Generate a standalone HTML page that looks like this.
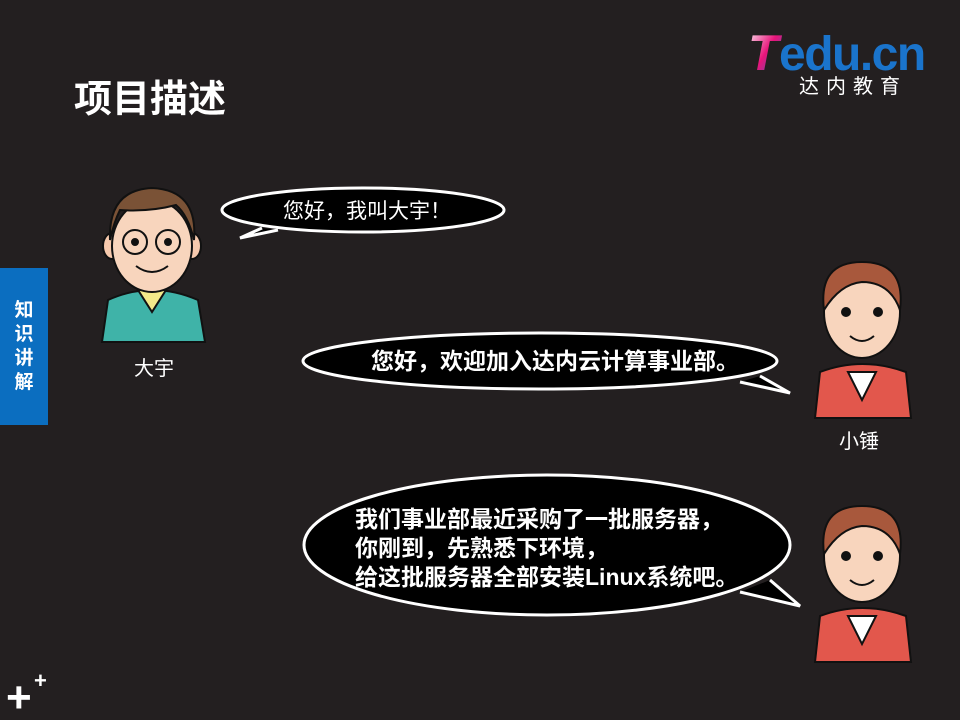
<!DOCTYPE html>
<html><head><meta charset="utf-8"><style>
html,body{margin:0;padding:0;background:#231f20;}
svg{display:block}
text{font-family:"Liberation Sans","Noto Sans CJK SC",sans-serif;}
</style></head><body>
<svg width="960" height="720" viewBox="0 0 960 720">
<defs>
<linearGradient id="tg" x1="0" y1="0" x2="1" y2="1"><stop offset="0" stop-color="#fff"/><stop offset="0.5" stop-color="#e8147a"/><stop offset="1" stop-color="#1a6fc8"/></linearGradient>
</defs>
<rect width="960" height="720" fill="#231f20"/>
<g>
<text x="748" y="70" font-size="50" font-weight="bold" font-style="italic" fill="url(#tg)">T</text>
<text x="779" y="70" font-size="48" font-weight="bold" fill="#1a74cc" letter-spacing="-1.5">edu.cn</text>
<text x="799" y="93" font-size="20" fill="#fff" letter-spacing="7">达内教育</text>
</g>
<text x="74" y="112" font-size="38" font-weight="bold" fill="#fff">项目描述</text>
<g>
<rect x="0" y="268" width="48" height="157" fill="#0b6ec0"/>
<text font-size="19" font-weight="bold" fill="#fff" text-anchor="middle"><tspan x="24" y="316">知</tspan><tspan x="24" y="340">识</tspan><tspan x="24" y="364">讲</tspan><tspan x="24" y="388">解</tspan></text>
</g>
<text x="6" y="712" font-size="44" font-weight="bold" fill="#fff">+</text>
<text x="34" y="688" font-size="22" font-weight="bold" fill="#fff">+</text>

<g stroke="#111" stroke-width="2">
<path d="M102 342 L108 300 Q152 280 198 300 L205 342 Z" fill="#3fb3a8"/>
<path d="M138 290 L152 312 L166 290 Z" fill="#f3e98a"/>
<ellipse cx="112" cy="246" rx="9" ry="13" fill="#f6c9ad"/>
<ellipse cx="192" cy="246" rx="9" ry="13" fill="#f6c9ad"/>
<ellipse cx="152" cy="246" rx="40" ry="46" fill="#f8d5bd"/>
<path d="M110 240 Q108 190 152 188 Q198 190 194 240 Q188 215 176 205 Q150 212 120 210 Q114 222 110 240Z" fill="#7a5236"/>
<circle cx="135" cy="242" r="12" fill="none"/><circle cx="168" cy="242" r="12" fill="none"/>
<circle cx="135" cy="242" r="3" fill="#111"/><circle cx="168" cy="242" r="3" fill="#111"/>
<path d="M136 266 Q152 278 168 266" fill="none"/>
</g>
<text x="154" y="375" font-size="20" fill="#fff" text-anchor="middle">大宇</text>

<g stroke="#111" stroke-width="2">
<path d="M815 418 L820 372 Q862 356 906 372 L911 418 Z" fill="#e2574c"/>
<path d="M848 372 L862 400 L876 372 Z" fill="#fff"/>
<ellipse cx="862" cy="312" rx="38" ry="46" fill="#f8d5bd"/>
<path d="M824 310 Q818 262 862 262 Q906 262 900 310 Q890 282 862 282 Q840 284 824 310Z" fill="#a8583c"/>
<circle cx="846" cy="312" r="4" fill="#111"/><circle cx="878" cy="312" r="4" fill="#111"/>
<path d="M850 336 Q862 346 874 336" fill="none"/>
</g>
<text x="859" y="448" font-size="20" fill="#fff" text-anchor="middle">小锤</text>

<g stroke="#111" stroke-width="2">
<path d="M815 662 L820 616 Q862 600 906 616 L911 662 Z" fill="#e2574c"/>
<path d="M848 616 L862 644 L876 616 Z" fill="#fff"/>
<ellipse cx="862" cy="556" rx="38" ry="46" fill="#f8d5bd"/>
<path d="M824 554 Q818 506 862 506 Q906 506 900 554 Q890 526 862 526 Q840 528 824 554Z" fill="#a8583c"/>
<circle cx="846" cy="556" r="4" fill="#111"/><circle cx="878" cy="556" r="4" fill="#111"/>
<path d="M850 580 Q862 590 874 580" fill="none"/>
</g>

<g fill="#000" stroke="#fff" stroke-width="3">
<path d="M262 228 L240 238 L278 230"/>
<ellipse cx="363" cy="210" rx="141" ry="22"/>
<text x="367" y="218" font-size="21" fill="#fff" stroke="none" text-anchor="middle">您好，我叫大宇！</text>
</g>
<g fill="#000" stroke="#fff" stroke-width="3">
<path d="M740 382 L790 393 L760 376"/>
<ellipse cx="540" cy="361" rx="237" ry="28"/>
<text x="555" y="369" font-size="23" font-weight="bold" fill="#fff" stroke="none" text-anchor="middle">您好，欢迎加入达内云计算事业部。</text>
</g>
<g fill="#000" stroke="#fff" stroke-width="3">
<path d="M740 592 L800 606 L770 580"/>
<ellipse cx="547" cy="545" rx="243" ry="70"/>
<text font-size="23" font-weight="bold" fill="#fff" stroke="none"><tspan x="355" y="527">我们事业部最近采购了一批服务器，</tspan><tspan x="355" y="556">你刚到，先熟悉下环境，</tspan><tspan x="355" y="585">给这批服务器全部安装Linux系统吧。</tspan></text>
</g>
</svg>
</body></html>
